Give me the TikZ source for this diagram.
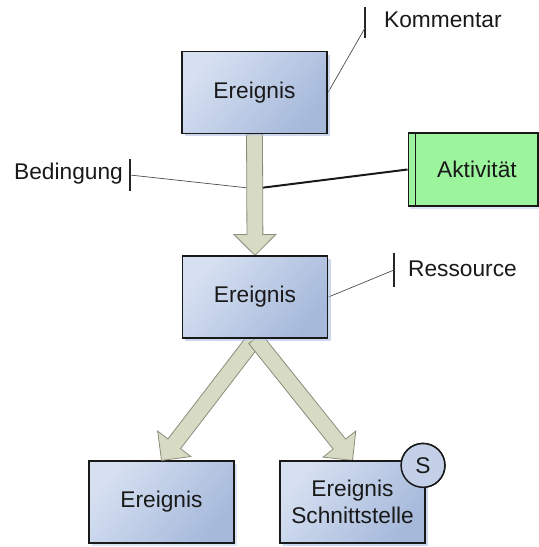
\documentclass[tikz,border=0pt]{standalone}
\usepackage{fontspec}
\setmainfont{Liberation Sans}
\usetikzlibrary{calc,shadows}
\definecolor{boxlight}{HTML}{D6E0F1}
\definecolor{boxdark}{HTML}{A6B9DB}
\definecolor{arrowfill}{HTML}{D8DBC3}
\definecolor{arrowline}{HTML}{8A8C7C}
\definecolor{actgreen}{HTML}{9CF49C}
\definecolor{shadowblue}{HTML}{BCCBEA}
\tikzset{
	event/.style={draw=black!90, line width=1.5pt, top color=boxlight, bottom color=boxdark, shading angle=50, minimum width=146, minimum height=82, inner sep=0pt, align=center, text=black!90, drop shadow={shadow xshift=3pt, shadow yshift=-3pt, fill=shadowblue, opacity=0.5}},
	activity/.style={draw=black!90, line width=1.5pt, fill=actgreen, minimum width=130, minimum height=73, inner sep=0pt, text=black!90, drop shadow={shadow xshift=2pt, shadow yshift=-3pt, fill=shadowblue, opacity=0.5}},
	note/.style={inner sep=0pt, text=black!90},
	notebar/.style={fill=black!85, minimum width=2.2, minimum height=32, inner sep=0pt},
	noteline/.style={draw=black!70, line width=0.7pt},
	flow/.style={fill=arrowfill, draw=arrowline, line width=0.8pt, line join=miter},
	marker/.style={circle, draw=black!90, line width=1.5pt, fill=boxlight!60!boxdark, minimum size=44, inner sep=0pt, text=black!90}
}
% block arrow from (#1) to (#2)
\def\blockarrow(#1)(#2){
	\coordinate (hb) at ($(#2)!21pt!(#1)$);
	\draw[flow] ($(#1)!8pt!90:(#2)$) -- ($(hb)!8pt!90:(#2)$) -- ($(hb)!21pt!90:(#2)$) -- (#2) -- ($(hb)!21pt!-90:(#2)$) -- ($(hb)!8pt!-90:(#2)$) -- ($(#1)!8pt!-90:(#2)$) -- cycle;
}

\begin{document}
\begin{tikzpicture}[x=1bp, y=-1bp, font=\fontsize{22.8}{27.5}\selectfont]
		%%%%% START %%%%%
		\useasboundingbox (0, 0) rectangle (539, 547);
		
		% events
		\node[event] (e1) at (254.5, 92.5) {Ereignis};
		\node[event] (e2) at (255, 297) {Ereignis};
		\node[event] (e3) at (161.5, 502) {Ereignis};
		\node[event] (e4) at (352.5, 502) {Ereignis\\Schnittstelle};
		\node[marker] (sig) at ([xshift=-3pt, yshift=-5pt]e4.north east) {S};
		
		% annotations
		\node[notebar] (kbar) at (365, 22.5) {};
		\node[note, anchor=west] (komm) at (384, 20) {Kommentar};
		\node[notebar] (bbar) at (130, 175) {};
		\node[note, anchor=east] (bed) at (123, 174) {Bedingung};
		\node[notebar, minimum height=34] (rbar) at (394, 270) {};
		\node[note, anchor=west] (res) at (408, 269) {Ressource};
		
		\node[activity] (akt) at (473, 169.5) {\hspace*{8pt}Aktivität};
		\draw[line width=1.5pt, black!90] ([xshift=8pt]akt.north west) -- ([xshift=8pt]akt.south west);
		
		% connectors
		\coordinate (cond) at ($(e1.south)!0.45!(e2.north)$);
		\draw[noteline] (e1.east) -- ([yshift=-5.5pt]kbar.center);
		\draw[noteline] (bbar.center) -- (cond);
		\draw[line width=2pt, black!90] (cond) -- (akt.west);
		\draw[noteline] (e2.east) -- (rbar.center);
		
		\blockarrow(e1.south)(e2.north)
		\blockarrow(e2.south)(e3.north)
		\blockarrow(e2.south)(e4.north)
		
		% redraw boxes over arrow ends
		\node[event] at (e1) {Ereignis};
		\node[event] at (e2) {Ereignis};
		\node[event] at (e4) {Ereignis\\Schnittstelle};
		\node[marker] at (sig) {S};
		%%%%% END %%%%%
	\end{tikzpicture}
\end{document}
